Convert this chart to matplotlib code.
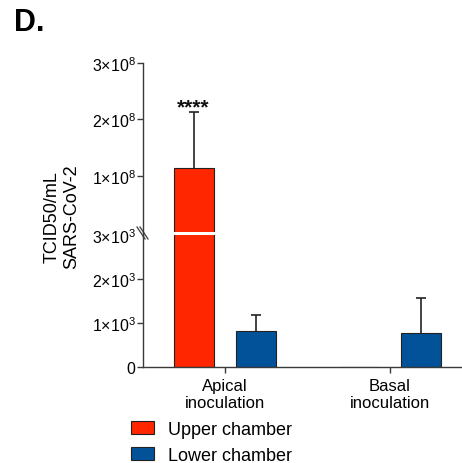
import matplotlib
matplotlib.use("Agg")
import matplotlib.pyplot as plt
from matplotlib.patches import Patch
from matplotlib.lines import Line2D
import numpy as np

plt.rcParams['font.family'] = ['Liberation Sans', 'DejaVu Sans']
plt.rcParams['mathtext.fontset'] = 'custom'
plt.rcParams['mathtext.rm'] = 'Liberation Sans'
plt.rcParams['mathtext.it'] = 'Liberation Sans'

# ---- data ----
groups = ["Apical\ninoculation", "Basal\ninoculation"]
series = ["Upper chamber", "Lower chamber"]
upper_mean = [1.14e8, 0.0]
upper_sd = [0.99e8, 0.0]
lower_mean = [825.0, 766.0]
lower_sd = [355.0, 810.0]
lower_ticks = [0, 1000, 2000, 3000]
lower_ticklabels = ["0", r"$1{\times}10^{3}$", r"$2{\times}10^{3}$", r"$3{\times}10^{3}$"]
upper_ticks = [1e8, 2e8, 3e8]
upper_ticklabels = [r"$1{\times}10^{8}$", r"$2{\times}10^{8}$", r"$3{\times}10^{8}$"]
significance = "****"

red = "#FF2600"
blue = "#02529A"
spine_c = "#3a3a3a"
edge_c = "#222222"

W, H = 462, 464
fig = plt.figure(figsize=(W/100, H/100), dpi=100)

left = 142.5/W
width = (W-142.5)/W
ax_lo = fig.add_axes([left, (H-368)/H, width, 132/H])
ax_hi = fig.add_axes([left, (H-233.3)/H, width, 169.3/H])

x = np.arange(len(groups))
bw = 0.242
off = 0.19

# lower segment: all bars
ax_lo.bar(x - off, upper_mean, bw, color=red, edgecolor=edge_c, linewidth=0.8, zorder=2)
ax_lo.bar(x + off, lower_mean, bw, color=blue, edgecolor=edge_c, linewidth=0.8, zorder=2)
# upper segment: only bars that reach it
ax_lo.set_ylim(0, 3000)
ax_hi.set_ylim(0, 3e8)
hi_mask = np.array(upper_mean) > lower_ticks[-1]
below = -0.05 * upper_ticks[-1]
ax_hi.bar((x - off)[hi_mask], np.array(upper_mean)[hi_mask] - below, bw, bottom=below,
          color=red, edgecolor=edge_c, linewidth=0.8, zorder=2)

for ax in (ax_lo, ax_hi):
    ax.set_xlim(-0.5, (W-225)/165)
    for s in ("top", "right"):
        ax.spines[s].set_visible(False)
    ax.spines["left"].set_color(spine_c)
    ax.spines["bottom"].set_color(spine_c)
    ax.spines["left"].set_linewidth(1.0)
    ax.spines["bottom"].set_linewidth(1.0)
    ax.tick_params(axis='both', direction='out', length=4, width=1.0, color=spine_c,
                   labelsize=11.5, pad=1)

# error bars (upper direction only)
eb1 = ax_hi.errorbar((x - off)[hi_mask], np.array(upper_mean)[hi_mask],
                     yerr=[np.zeros(hi_mask.sum()), np.array(upper_sd)[hi_mask]], fmt='none',
                     ecolor=edge_c, elinewidth=1.2, capsize=3.8, capthick=1.2, zorder=3)
eb2 = ax_lo.errorbar(x + off, lower_mean, yerr=[np.zeros(len(x)), lower_sd], fmt='none',
                     ecolor=edge_c, elinewidth=1.2, capsize=3.8, capthick=1.2, zorder=3)
for eb in (eb1, eb2):
    eb[1][0].set_visible(False)  # hide lower caps

ax_hi.spines["bottom"].set_visible(False)
ax_hi.set_xticks([])
ax_lo.set_xticks(x)
ax_lo.set_xticklabels(groups, fontsize=12, linespacing=1.15)
ax_lo.tick_params(axis='x', pad=4)

ax_lo.set_yticks(lower_ticks)
ax_lo.set_yticklabels(lower_ticklabels)
ax_lo.yaxis.get_major_ticks()[-1].tick1line.set_visible(False)
ax_hi.set_yticks(upper_ticks)
ax_hi.set_yticklabels(upper_ticklabels)

# significance
ax_hi.annotate(significance, xy=(x[0] - off, upper_mean[0] + upper_sd[0]),
               xytext=(0, -3), textcoords='offset points', ha='center', va='bottom',
               fontsize=15, fontweight='bold', color="#111111")

# continuous spine across break + break marks
fig.add_artist(Line2D([left, left], [(H-236.5)/H, (H-233)/H], color=spine_c, lw=1.0))
for dx in (-1.5, 1.5):
    fig.add_artist(Line2D([(142.5 - 4 + dx)/W, (142.5 + 4 + dx)/W],
                          [(H-228)/H, (H-240)/H], color=spine_c, lw=0.9))

# y label
fig.text(61.5/W, (H-217)/H, "TCID50/mL\nSARS-CoV-2", rotation=90, ha='center', va='center',
         fontsize=13, linespacing=1.2)

# panel letter
fig.text(14/W, (H-8)/H, "D.", fontsize=22, fontweight='bold', ha='left', va='top')

# legend
handles = [Patch(facecolor=red, edgecolor=edge_c, linewidth=0.8),
           Patch(facecolor=blue, edgecolor=edge_c, linewidth=0.8)]
fig.legend(handles, series, loc='upper left', bbox_to_anchor=(131/W, (H-422)/H),
           frameon=False, fontsize=13, handlelength=1.3, handleheight=0.7,
           handletextpad=0.75, labelspacing=0.5, borderpad=0, borderaxespad=0)

fig.savefig("out.png", dpi=100)
